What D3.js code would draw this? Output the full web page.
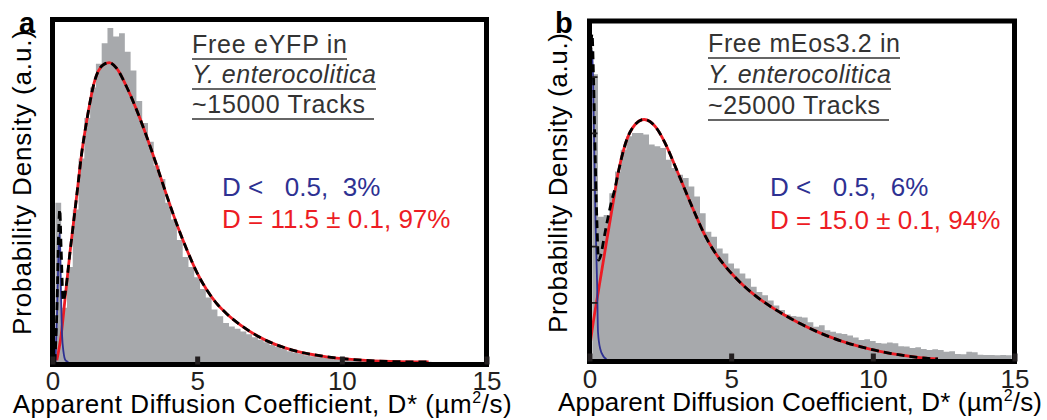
<!DOCTYPE html>
<html>
<head>
<meta charset="utf-8">
<script src="https://cdn.jsdelivr.net/npm/d3@7"></script>
<style>
  body { margin: 0; background: #fff; }
  svg { display: block; font-family: "Liberation Sans", Arial, sans-serif; }
</style>
</head>
<body>
<svg id="chart" width="1047" height="420"></svg>
<script>
// ---- data (density in % of axis height) ----
const xTicks = [0, 5, 10, 15];
const binStart = 0.1;   // first visible bin edge, um^2/s
const binWidth = 0.2;

// panel a: eYFP, histogram bins from 0.1 upward
const histA = [47, 16, 28, 45, 60, 72, 81, 88, 94, 98.5, 96, 97, 91.5, 86, 77, 70.5,
  65, 58, 54, 47, 42, 36, 31, 28, 25, 21.5, 19, 15.5, 13.5, 11.5, 10.5, 9.8, 9, 8.2,
  7.3, 6.6, 5.8, 5, 4.4, 3.8, 3.2, 2.8, 2.4, 2, 1.7, 1.4, 1.2, 1, 0.8, 0.7, 0.6, 0.5,
  0.4, 0.35, 0.3, 0.25, 0.2, 0.2, 0.15, 0.15, 0.1, 0.1, 0.1, 0.1, 0.1, 0];
const fastA = [[0.15, 0.5], [0.3, 8], [0.45, 20], [0.6, 32], [0.85, 50], [1.0, 61], [1.18, 71],
  [1.46, 83], [1.74, 87.6], [1.96, 88.3], [2.22, 86.6], [2.56, 81.2], [2.91, 74.3], [3.25, 66.6],
  [3.6, 58], [3.94, 49.3], [4.29, 40.8], [4.64, 33.2], [4.98, 26.6], [5.33, 21.3], [5.67, 17.3],
  [6.0, 14.4], [6.5, 10.9], [7.1, 7.6], [7.7, 5.2], [8.26, 3.6], [9.42, 1.6], [10.57, 0.6],
  [11.7, 0.15], [13.0, 0]];
const slowA = [[0.1, 0], [0.16, 15], [0.21, 33], [0.25, 38], [0.29, 22], [0.33, 8], [0.38, 3],
  [0.45, 0.5], [0.55, 0]];
// total fit: spike near zero, then it lies on the fast component
const totalA = [[0.08, 0], [0.16, 18], [0.21, 38], [0.25, 45], [0.3, 33], [0.37, 18], [0.45, 21]]
  .concat(fastA.filter(p => p[0] >= 0.6));

// panel b: mEos3.2
const histB = [85, 42.5, 43, 49.5, 56, 62.5, 66.5, 67.5, 67.5, 67, 64, 63.5, 63, 59.5, 57, 55,
  54, 51.5, 48.5, 43.5, 38, 36.5, 33, 31.5, 28.5, 27, 25.5, 24, 21.6, 20, 19, 17.5, 16, 14.6,
  13.3, 12.8, 12.6, 12.4, 11, 9.6, 10.1, 8.6, 8.1, 7.7, 7.5, 7, 6.4, 5.7, 5.9, 5.4, 4.8, 4.6,
  4.9, 4.7, 3.8, 3.7, 3.3, 3.5, 3, 2.7, 2.9, 2.7, 2.2, 2.3, 1.5, 1.4, 2.2, 2, 1.3, 1.2, 1.2,
  1.1, 1.2, 1.1];
const fastB = [[0.0, 2.5], [0.05, 6], [0.34, 21.6], [0.6, 35], [0.84, 47], [1.01, 55.5],
  [1.25, 63.8], [1.61, 70], [1.93, 71.5], [2.31, 69.5], [2.66, 64.6], [3.02, 57.6], [3.37, 50.5],
  [3.72, 43.5], [4.08, 36.8], [4.43, 31.8], [4.78, 27.8], [5.14, 24.4], [5.49, 21.5], [5.84, 19],
  [6.19, 16.8], [6.55, 14.8], [6.85, 13.3], [7.43, 10.6], [8.13, 7.8], [8.84, 5.5], [9.55, 3.7],
  [10.25, 2.3], [10.96, 1.2], [11.66, 0.4], [12.3, 0]];
const slowB = [[0.0, 60], [0.05, 85], [0.1, 92], [0.15, 71], [0.21, 42], [0.27, 22], [0.3, 8],
  [0.38, 3], [0.5, 0.7], [0.6, 0]];
const totalB = [[0.02, 75], [0.05, 92], [0.09, 97], [0.15, 81], [0.2, 61], [0.26, 41.5],
  [0.32, 29.5], [0.4, 31], [0.5, 35.5], [0.6, 40], [0.75, 46], [0.9, 51]]
  .concat(fastB.filter(p => p[0] >= 1.0));
const yTicksB = [16.9, 33.7, 50.6, 67.5, 84.3];

const titleA = ["Free eYFP in", "Y. enterocolitica", "~15000 Tracks"];
const titleB = ["Free mEos3.2 in", "Y. enterocolitica", "~25000 Tracks"];
const statsA = ["D <   0.5,  3%", "D = 11.5 \u00b1 0.1, 97%"];
const statsB = ["D <   0.5,  6%", "D = 15.0 \u00b1 0.1, 94%"];

const gray = "#a7a9ac", red = "#ed1c24", blue = "#2e3192", ink = "#231f20";
const svg = d3.select("#chart");

function panel(cfg) {
  const x = d3.scaleLinear().domain([0, 15]).range([cfg.left, cfg.right]);
  const y = d3.scaleLinear().domain([0, 100]).range([cfg.base, cfg.top]);
  const g = svg.append("g");

  g.append("clipPath").attr("id", cfg.id + "-clip")
    .append("rect")
    .attr("x", cfg.left).attr("y", cfg.frameTop)
    .attr("width", cfg.right - cfg.left).attr("height", cfg.base - cfg.frameTop);

  const plot = g.append("g").attr("clip-path", `url(#${cfg.id}-clip)`);

  // histogram as one stepped area
  const steps = cfg.hist.map((h, i) => [binStart + i * binWidth, h]);
  steps.push([binStart + cfg.hist.length * binWidth, cfg.hist[cfg.hist.length - 1]]);
  plot.append("path")
    .datum(steps)
    .attr("fill", gray)
    .attr("d", d3.area().curve(d3.curveStepAfter)
      .x(d => x(d[0])).y0(y(0)).y1(d => y(d[1])));

  const line = d3.line().curve(d3.curveMonotoneX).x(d => x(d[0])).y(d => y(d[1]));
  plot.append("path").datum(cfg.fast).attr("d", line)
    .attr("fill", "none").attr("stroke", red).attr("stroke-width", 2.8);
  plot.append("path").datum(cfg.slow).attr("d", line)
    .attr("fill", "none").attr("stroke", blue).attr("stroke-width", 1.8);
  plot.append("path").datum(cfg.total).attr("d", line)
    .attr("fill", "none").attr("stroke", "#000").attr("stroke-width", 2.8)
    .attr("stroke-dasharray", "8,5");

  if (cfg.yTicks) {
    const ya = g.append("g").attr("transform", `translate(${cfg.left},0)`)
      .call(d3.axisLeft(y).tickValues(cfg.yTicks).tickSize(-8).tickFormat(""));
    ya.select(".domain").remove();
    ya.selectAll("line").attr("stroke", ink).attr("stroke-width", 1.8);
  }

  // frame
  g.append("rect")
    .attr("x", cfg.left).attr("y", cfg.frameTop)
    .attr("width", cfg.right - cfg.left).attr("height", cfg.frameBottom - cfg.frameTop)
    .attr("fill", "none").attr("stroke", "#000").attr("stroke-width", 5);

  const xa = g.append("g").attr("transform", `translate(0,${cfg.frameBottom})`)
    .call(d3.axisBottom(x).tickValues(xTicks).tickSize(-8).tickFormat(d3.format("d")))
    .attr("font-size", null).attr("font-family", null);
  xa.select(".domain").remove();
  xa.selectAll("line").attr("stroke", ink).attr("stroke-width", 5);
  xa.selectAll("text")
    .attr("y", cfg.tickLabelY - cfg.frameBottom).attr("dy", null)
    .attr("font-size", 26).attr("fill", ink);

  // axis titles
  const xl = g.append("text")
    .attr("x", cfg.xLabel[0]).attr("y", cfg.xLabel[1])
    .attr("font-size", 26).attr("fill", "#000")
    .attr("textLength", cfg.xLabel[2]).attr("lengthAdjust", "spacing");
  xl.append("tspan").text("Apparent Diffusion Coefficient, D* (\u00b5m");
  xl.append("tspan").attr("font-size", 16).attr("dy", -10).text("2");
  xl.append("tspan").attr("dy", 10).text("/s)");

  g.append("text")
    .attr("transform", `translate(${cfg.yLabel[0]},${cfg.yLabel[1]}) rotate(-90)`)
    .attr("font-size", 26).attr("fill", "#000")
    .attr("textLength", cfg.yLabel[2]).attr("lengthAdjust", "spacing")
    .text("Probability Density (a.u.)");

  g.append("text")
    .attr("x", cfg.letter[0]).attr("y", cfg.letter[1])
    .attr("font-size", 29).attr("font-weight", "bold").attr("fill", "#000")
    .text(cfg.id);

  // sample annotation, underlined
  cfg.title.forEach((t, i) => {
    const yy = cfg.titleY[i];
    g.append("text")
      .attr("x", cfg.titleX).attr("y", yy)
      .attr("font-size", 25).attr("fill", "#333")
      .attr("font-style", i === 1 ? "italic" : null)
      .attr("textLength", cfg.titleLen[i]).attr("lengthAdjust", "spacing")
      .text(t);
    g.append("line")
      .attr("x1", cfg.titleX).attr("x2", cfg.titleX + cfg.underLen[i])
      .attr("y1", yy + 6).attr("y2", yy + 6)
      .attr("stroke", "#333").attr("stroke-width", 1.5);
  });

  cfg.stats.forEach((t, i) => {
    g.append("text")
      .attr("x", cfg.statsX).attr("y", cfg.statsY[i])
      .attr("font-size", 26).attr("fill", i === 0 ? blue : red)
      .style("white-space", "pre")
      .text(t);
  });
}

panel({
  id: "a", hist: histA, fast: fastA, slow: slowA, total: totalA,
  left: 52.5, right: 486.5, frameTop: 19.5, frameBottom: 364.5, base: 362, top: 23,
  tickLabelY: 390, xLabel: [12.7, 413, 499], yLabel: [31, 335, 305], letter: [19, 33],
  title: titleA, titleX: 192, titleY: [53, 83, 113], titleLen: [155, 184, 173], underLen: [155, 184, 182],
  stats: statsA, statsX: 222, statsY: [196, 228]
});

panel({
  id: "b", hist: histB, fast: fastB, slow: slowB, total: totalB, yTicks: yTicksB,
  left: 589.5, right: 1014.5, frameTop: 21, frameBottom: 361.5, base: 359, top: 24,
  tickLabelY: 388, xLabel: [558, 411, 484], yLabel: [567, 333, 300], letter: [555, 33],
  title: titleB, titleX: 708, titleY: [52, 83, 114], titleLen: [192, 183, 172], underLen: [192, 183, 181],
  stats: statsB, statsX: 770, statsY: [196, 229]
});
</script>
</body>
</html>
